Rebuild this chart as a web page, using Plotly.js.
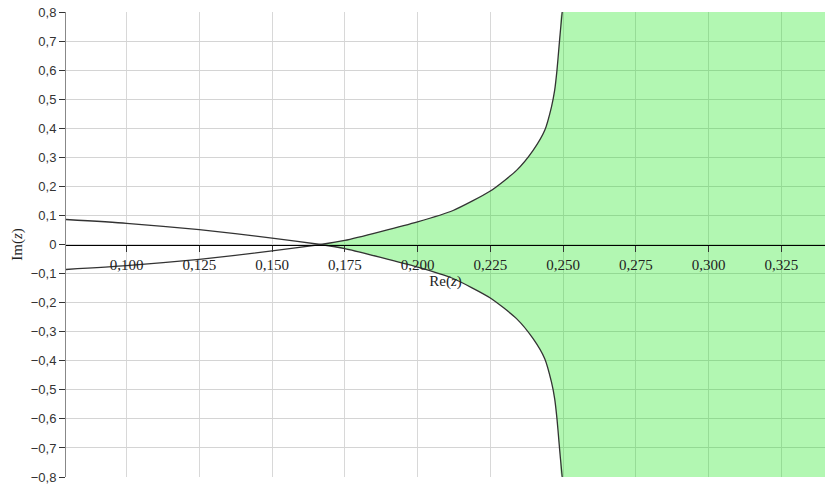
<!DOCTYPE html>
<html>
<head>
<meta charset="utf-8">
<script src="https://cdn.plot.ly/plotly-3.0.1.min.js"></script>
<style>
  html, body { margin: 0; padding: 0; background: #fff; }
  #chart { width: 830px; height: 490px; }
</style>
</head>
<body>
<div id="chart"></div>
<script>
// points (the other one is its mirror image)
const reCurve = [0.0792, 0.1, 0.125, 0.15, 0.1667, 0.175, 0.2, 0.2122,
                 0.225, 0.234, 0.2397, 0.2437, 0.246, 0.2471, 0.2479, 0.2486, 0.2491, 0.2497];
const imCurve = [0.086, 0.073, 0.051, 0.022, 0, -0.014, -0.078, -0.117,
                 -0.184, -0.255, -0.324, -0.393, -0.473, -0.530, -0.599, -0.680, -0.737, -0.80];
const imMirror = imCurve.map(v => -v);

const xRange = [0.0792, 0.34];
const yRange = [-0.8, 0.8];

const yTickVals = [0.8, 0.7, 0.6, 0.5, 0.4, 0.3, 0.2, 0.1, 0, -0.1, -0.2, -0.3, -0.4, -0.5, -0.6, -0.7, -0.8];
const yTickText = ['0,8', '0,7', '0,6', '0,5', '0,4', '0,3', '0,2', '0,1', '0',
                   '\u22120,1', '\u22120,2', '\u22120,3', '\u22120,4', '\u22120,5', '\u22120,6', '\u22120,7', '\u22120,8'];

// stable region: right of the crossing point, between the two branches
const start = imCurve.indexOf(0);
const upX = reCurve.slice(start), upY = imMirror.slice(start);
const loX = reCurve.slice(start).reverse(), loY = imCurve.slice(start).reverse();
const regionX = upX.concat([xRange[1], xRange[1]], loX);
const regionY = upY.concat([yRange[1], yRange[0]], loY);

const region = {
    type: 'scatter', mode: 'lines',
    x: regionX, y: regionY,
    fill: 'toself', fillcolor: 'rgba(0,230,0,0.3)',
    line: {width: 0, color: 'rgba(0,0,0,0)', shape: 'spline', smoothing: 0.6},
    hoverinfo: 'skip'
};

const curveA = {
    type: 'scatter', mode: 'lines',
    x: reCurve, y: imCurve,
    line: {color: '#333', width: 1.3, shape: 'spline', smoothing: 0.6}
};
const curveB = {
    type: 'scatter', mode: 'lines',
    x: reCurve, y: imMirror,
    line: {color: '#333', width: 1.3, shape: 'spline', smoothing: 0.6}
};

const layout = {
    width: 830, height: 490,
    margin: {l: 66, r: 5, t: 12, b: 13},
    paper_bgcolor: '#fff', plot_bgcolor: '#fff',
    showlegend: false,
    separators: ', ',
    xaxis: {
        range: xRange,
        tick0: 0.1, dtick: 0.025, tickformat: '.3f',
        anchor: 'free', position: 0.5,
        showline: true, linecolor: '#000', linewidth: 1,
        ticks: 'outside', ticklen: 6, tickcolor: '#333',
        showgrid: true, gridcolor: '#d8d8d8', gridwidth: 1,
        zeroline: false,
        tickfont: {family: 'Liberation Serif', size: 15, color: '#222'},
        title: {text: 'Re(<i>z</i>)', font: {family: 'Liberation Serif', size: 15, color: '#222'}, standoff: 0}
    },
    yaxis: {
        range: yRange,
        tickvals: yTickVals, ticktext: yTickText,
        showline: true, linecolor: '#888', linewidth: 1,
        ticks: 'outside', ticklen: 6, tickcolor: '#333',
        showgrid: true, gridcolor: '#d4d4d4', gridwidth: 1,
        zeroline: false,
        tickfont: {family: 'Liberation Sans', size: 13, color: '#333'},
        title: {text: 'Im(<i>z</i>)', font: {family: 'Liberation Serif', size: 15, color: '#222'}, standoff: 4}
    }
};

Plotly.newPlot('chart', [region, curveA, curveB], layout, {displayModeBar: false, staticPlot: true});
</script>
</body>
</html>
